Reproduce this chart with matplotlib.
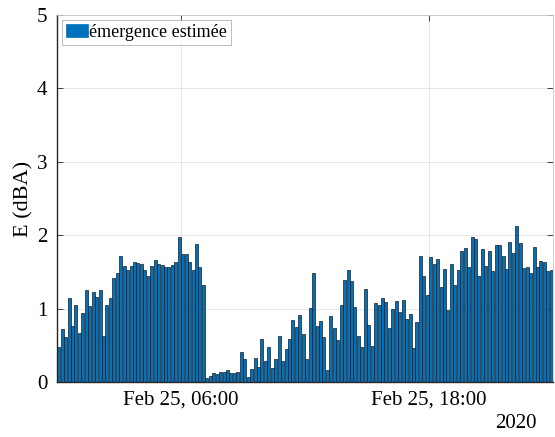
import numpy as np
import pandas as pd
import matplotlib
matplotlib.use("Agg")
import matplotlib.pyplot as plt
import matplotlib.dates as mdates

# 10-min estimated emergence, Feb 25 2020, 00:00 -> 24:00
start = "2020-02-25 00:05"
e_morning = [0.48, 0.72, 0.61, 1.15, 0.76, 1.05, 0.67, 0.94, 1.26, 1.04,
             1.22, 1.16, 1.26, 0.62, 1.05, 1.14, 1.42, 1.49, 1.72,
             1.58, 1.52, 1.58, 1.63, 1.62, 1.61, 1.53, 1.44, 1.58, 1.66,
             1.61, 1.60, 1.56, 1.56, 1.60, 1.64, 1.97, 1.74, 1.74, 1.64,
             1.52, 1.88, 1.57, 1.32]
e_midday = [0.05, 0.08, 0.12, 0.11, 0.14, 0.13, 0.16, 0.12, 0.12, 0.13,
            0.41, 0.31, 0.07, 0.18, 0.33, 0.20, 0.59, 0.28, 0.48, 0.19,
            0.32, 0.63, 0.29, 0.45, 0.58, 0.85, 0.75, 0.91, 0.65, 0.32,
            1.01, 1.48, 0.76, 0.83, 0.61, 0.17, 0.90, 0.74, 0.57, 1.05,
            1.39, 1.53, 1.38, 1.02, 0.62, 0.48,
            1.27, 0.78, 0.49, 1.07, 1.05, 1.14, 1.09, 0.74, 1.00, 1.11,
            0.95, 1.12, 0.86, 0.92, 0.47]
e_evening = [0.82, 1.72, 1.44, 1.18, 1.70, 1.61, 1.68, 1.30, 1.54, 0.98,
             1.61, 1.32, 1.53, 1.79, 1.82, 1.57, 1.97, 1.95, 1.45, 1.81,
             1.58, 1.79, 1.51, 1.86, 1.86, 1.71, 1.54, 1.91, 1.76, 2.13,
             1.90, 1.55, 1.57, 1.49, 1.84, 1.57, 1.65, 1.64, 1.51, 1.53]

emergence = np.array(e_morning + e_midday + e_evening)
times = pd.date_range(start, periods=len(emergence), freq="10min")

plt.rcParams['font.family'] = ['Liberation Serif', 'DejaVu Serif']

fig = plt.figure(figsize=(5.55, 4.37), dpi=100)
ax = fig.add_axes([57/555, 1-382/437, 496/555, 367/437])

w = 0.85 * 10 / 1440
ax.bar(times, emergence, width=w, color='#0072BD', edgecolor='#1a1a1a',
       linewidth=0.5, label='émergence estimée', zorder=2)

ax.set_xlim(pd.Timestamp("2020-02-25 00:00"), pd.Timestamp("2020-02-26 00:00"))
ax.set_ylim(0, 5)
ax.set_yticks([0, 1, 2, 3, 4, 5])
ax.set_xticks([pd.Timestamp("2020-02-25 06:00"), pd.Timestamp("2020-02-25 18:00")])
ax.xaxis.set_major_formatter(mdates.DateFormatter('%b %d, %H:%M'))

ax.grid(True, color='#262626', alpha=0.13, linewidth=0.6, zorder=0)
ax.set_axisbelow(True)
ax.tick_params(direction='in', length=4, width=0.6, labelsize=15,
               top=True, right=True, colors='#262626', labelcolor='black')
for s in ['left', 'bottom']:
    ax.spines[s].set_color('#262626')
    ax.spines[s].set_linewidth(1.0)
for s in ['top', 'right']:
    ax.spines[s].set_color('#c8c8c8')
    ax.spines[s].set_linewidth(0.6)

ax.set_ylabel('E (dBA)', fontsize=16)
ax.yaxis.set_label_coords(-24/496, 0.5)
ax.tick_params(axis='x', pad=6)
ax.tick_params(axis='y', pad=7)

leg = ax.legend(loc='upper left', fontsize=13, frameon=True, fancybox=False,
                borderpad=0.2, handlelength=1.2, handleheight=0.7,
                handletextpad=0.08, borderaxespad=0.3)
leg.get_frame().set_edgecolor('#a0a0a0')
leg.get_frame().set_linewidth(0.6)
for p in leg.get_patches():
    p.set_edgecolor('#0072BD')

fig.text(537/555, 1-424/437, '2020', ha='right', va='center', fontsize=15)

fig.savefig('out.png', dpi=100)
